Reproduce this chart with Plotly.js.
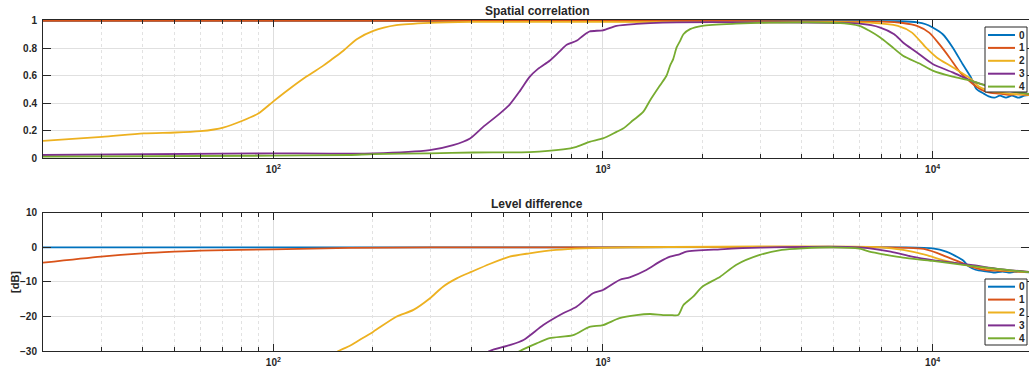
<!DOCTYPE html>
<html><head><meta charset="utf-8">
<script src="https://cdn.plot.ly/plotly-3.0.1.min.js"></script>
<style>html,body{margin:0;padding:0;background:#fff}#chart{width:1029px;height:375px}</style>
</head><body><div id="chart"></div>
<script>
// ---------- data ----------
const seriesNames = ['0', '1', '2', '3', '4'];
const seriesColors = ['#0072BD', '#D95319', '#EDB120', '#7E2F8E', '#77AC30'];

// Spatial correlation (top)
const corrFreq0 = [20, 100, 1000, 5000, 8000, 9000, 9535, 10004, 10737, 11507, 12330, 13065, 13560, 13850, 14300, 14800, 15400, 16000, 16700, 17400, 18200, 19000, 20000];
const corrVal0  = [1, 1, 1, 1, 0.998, 0.99, 0.976, 0.952, 0.903, 0.807, 0.686, 0.589, 0.505, 0.488, 0.47, 0.45, 0.44, 0.455, 0.44, 0.455, 0.44, 0.455, 0.46];
const corrFreq1 = [20, 1000, 7000, 8133, 8965, 9763, 10480, 11250, 12120, 13065, 13730, 14300, 15000, 16000, 17000, 18000, 19000, 20000];
const corrVal1  = [1, 1, 0.995, 0.985, 0.964, 0.915, 0.831, 0.734, 0.625, 0.553, 0.512, 0.49, 0.475, 0.47, 0.46, 0.465, 0.46, 0.46];
const corrFreq2 = [20, 30.2, 40.4, 50.4, 60, 66, 70.4, 80.2, 90, 100, 112, 126, 141.7, 148.5, 163, 179, 201, 236, 298, 400, 700, 1000, 3000, 6431, 7847, 8660, 9535, 10290, 11507, 13065, 13850, 15000, 17000, 20000];
const corrVal2  = [0.125, 0.154, 0.179, 0.186, 0.196, 0.208, 0.222, 0.27, 0.324, 0.413, 0.505, 0.594, 0.674, 0.71, 0.783, 0.867, 0.928, 0.969, 0.986, 0.993, 0.993, 0.993, 0.99, 0.988, 0.964, 0.915, 0.807, 0.734, 0.662, 0.577, 0.52, 0.49, 0.47, 0.46];
const corrFreq3 = [20, 100, 148, 201, 298, 351, 395, 433, 486, 521, 560, 598, 635, 689, 739, 776, 831, 868, 910, 1000, 1099, 1263, 1517, 3000, 6000, 6936, 7649, 8133, 8965, 10004, 11507, 13065, 14500, 16000, 18000, 20000];
const corrVal3  = [0.022, 0.034, 0.032, 0.034, 0.058, 0.094, 0.143, 0.227, 0.324, 0.39, 0.49, 0.59, 0.65, 0.71, 0.778, 0.826, 0.855, 0.891, 0.923, 0.932, 0.964, 0.978, 0.988, 0.99, 0.98, 0.952, 0.903, 0.843, 0.77, 0.686, 0.625, 0.565, 0.53, 0.5, 0.48, 0.465];
const corrFreq4 = [20, 100, 170, 201, 298, 404, 598, 757, 831, 910, 1000, 1099, 1151, 1234, 1324, 1389, 1488, 1558, 1598, 1633, 1673, 1714, 1754, 1838, 2001, 2532, 3184, 5111, 6000, 6431, 6936, 7460, 8133, 9187, 10004, 11507, 13065, 14514, 16500, 18000, 20000];
const corrVal4  = [0.01, 0.017, 0.022, 0.029, 0.034, 0.04, 0.043, 0.063, 0.082, 0.118, 0.143, 0.191, 0.215, 0.275, 0.336, 0.42, 0.529, 0.6, 0.674, 0.722, 0.807, 0.855, 0.903, 0.94, 0.964, 0.98, 0.988, 0.986, 0.964, 0.928, 0.879, 0.819, 0.746, 0.686, 0.638, 0.594, 0.565, 0.529, 0.5, 0.48, 0.465];

// Level difference [dB] (bottom)
const levFreq0 = [20, 1000, 8000, 10004, 11000, 12330, 12900, 13500, 14514, 15300, 16300, 17200, 18200, 19000, 20000];
const levVal0  = [0, 0, 0, -0.3, -1.27, -3.7, -5.6, -6.5, -7.0, -7.3, -7.0, -7.3, -7.0, -7.2, -7.3];
const levFreq1 = [20, 30, 40, 50, 60, 100, 170, 300, 1000, 7000, 9535, 11000, 12330, 13065, 14514, 16000, 18000, 20000];
const levVal1  = [-4.45, -2.7, -1.75, -1.27, -0.97, -0.58, -0.2, -0.05, 0, 0, -0.6, -2.7, -4.6, -5.6, -6.6, -6.8, -7.0, -7.2];
const levFreq2 = [140, 157.6, 170.7, 179, 201, 236, 266, 298, 327, 360, 400, 453, 521, 598, 721, 868, 1200, 7000, 8133, 9535, 10737, 13065, 15000, 17000, 20000];
const levVal2  = [-33.5, -30, -28.5, -27.3, -24.4, -20.1, -18.1, -14.8, -11.4, -9, -7.05, -4.83, -2.7, -1.75, -0.77, -0.3, 0, 0, -0.77, -2.2, -3.7, -5.4, -6.3, -6.8, -7.2];
const levFreq3 = [420, 453, 521, 574, 659, 757, 831, 933, 1000, 1122, 1205, 1354, 1488, 1598, 1714, 1790, 2268, 3000, 6000, 7460, 8660, 10004, 13065, 16000, 20000];
const levVal3  = [-32, -30, -28.3, -26.8, -22.5, -19.1, -17.2, -13.3, -12.35, -9.46, -8.7, -6.56, -4.15, -2.7, -1.95, -1.27, -0.6, -0.1, 0, -1.27, -2.7, -3.7, -5.1, -6.3, -7.2];
const levFreq4 = [520, 560, 629, 689, 812, 910, 1000, 1122, 1263, 1389, 1522, 1598, 1691, 1754, 1877, 2001, 2268, 2532, 2990, 3490, 4040, 5000, 6000, 6431, 7240, 8133, 10004, 13065, 16300, 20000];
const levVal4  = [-32, -30, -27.8, -26.3, -25.4, -23, -22.5, -20.5, -19.6, -19.3, -19.6, -19.6, -19.6, -16.7, -14.3, -11.4, -8.5, -5.1, -2.2, -0.77, -0.3, 0, -0.4, -1.27, -2.2, -3, -3.96, -5.4, -6.4, -7.3];

const xMajorTicks = [100, 1000, 10000];
const xMajorText = ['10<sup>2</sup>', '10<sup>3</sup>', '10<sup>4</sup>'];
const xMinorTicks = [20,30,40,50,60,70,80,90,200,300,400,500,600,700,800,900,2000,3000,4000,5000,6000,7000,8000,9000,20000];
const corrTicks = [0, 0.2, 0.4, 0.6, 0.8, 1];
const levTicks = [-30, -20, -10, 0, 10];
const titles = ['Spatial correlation', 'Level difference'];
const yLabel = '[dB]';

// ---------- layout helpers ----------
const W = 1029, H = 375;
const X = p => p / W;
const Y = p => 1 - p / H;
const ink = '#262626';
const fam = 'Liberation Sans, Arial, sans-serif';
const tickFont = {family: fam, size: 10, color: ink, weight: 'bold'};

const corrF = [corrFreq0, corrFreq1, corrFreq2, corrFreq3, corrFreq4];
const corrV = [corrVal0, corrVal1, corrVal2, corrVal3, corrVal4];
const levF = [levFreq0, levFreq1, levFreq2, levFreq3, levFreq4];
const levV = [levVal0, levVal1, levVal2, levVal3, levVal4];

const traces = [];
for (let i = 0; i < 5; i++) {
  traces.push({x: corrF[i], y: corrV[i], xaxis: 'x', yaxis: 'y', mode: 'lines', name: seriesNames[i],
    line: {color: seriesColors[i], width: 1.8, shape: 'spline', smoothing: 0.7}, showlegend: false});
}
for (let i = 0; i < 5; i++) {
  traces.push({x: levF[i], y: levV[i], xaxis: 'x2', yaxis: 'y2', mode: 'lines', name: seriesNames[i],
    line: {color: seriesColors[i], width: 1.8, shape: 'spline', smoothing: 0.7}, showlegend: false});
}

function xAx(anchor) {
  return {type: 'log', domain: [X(43), 1], range: [Math.log10(20), 4.2925], anchor: anchor,
    tickmode: 'array', tickvals: xMajorTicks, ticktext: xMajorText, ticks: 'inside', ticklen: 7,
    tickcolor: ink, showline: true, linecolor: ink, linewidth: 1, mirror: 'ticks',
    showgrid: true, gridcolor: '#dedede', gridwidth: 1, zeroline: false, tickfont: tickFont,
    ticklabelstandoff: 2,
    minor: {tickmode: 'array', tickvals: xMinorTicks, ticks: 'inside', ticklen: 4, tickcolor: ink,
      showgrid: true, gridcolor: '#e2e2e2', griddash: 'dot', gridwidth: 1}};
}
function yAx(anchor, dom, rng, tv) {
  return {domain: dom, range: rng, anchor: anchor, tickmode: 'array', tickvals: tv,
    ticks: 'inside', ticklen: 8, tickcolor: ink, showline: true, linecolor: ink, linewidth: 1,
    mirror: 'ticks', showgrid: true, gridcolor: '#e0e0e0', gridwidth: 1, zeroline: false,
    tickfont: tickFont, ticklabelstandoff: 3};
}

const shapes = [], annotations = [];
annotations.push({xref: 'paper', yref: 'paper', x: X(537), y: Y(11), text: '<b>' + titles[0] + '</b>',
  showarrow: false, xanchor: 'center', yanchor: 'middle', font: {family: fam, size: 12, color: ink}});
annotations.push({xref: 'paper', yref: 'paper', x: X(537), y: Y(204), text: '<b>' + titles[1] + '</b>',
  showarrow: false, xanchor: 'center', yanchor: 'middle', font: {family: fam, size: 12, color: ink}});
annotations.push({xref: 'paper', yref: 'paper', x: X(15), y: Y(282), text: '<b>' + yLabel + '</b>', textangle: -90,
  showarrow: false, xanchor: 'center', yanchor: 'middle', font: {family: fam, size: 11, color: ink}});

function legend(top, bottom, firstRow) {
  shapes.push({type: 'rect', xref: 'paper', yref: 'paper', x0: X(985), x1: X(1027), y0: Y(bottom), y1: Y(top),
    fillcolor: '#ffffff', line: {color: ink, width: 1}, layer: 'above'});
  for (let i = 0; i < 5; i++) {
    const yy = firstRow + i * 12.9;
    shapes.push({type: 'line', xref: 'paper', yref: 'paper', x0: X(988), x1: X(1015), y0: Y(yy), y1: Y(yy),
      line: {color: seriesColors[i], width: 2}, layer: 'above'});
    annotations.push({xref: 'paper', yref: 'paper', x: X(1017), y: Y(yy), text: '<b>' + seriesNames[i] + '</b>',
      showarrow: false, xanchor: 'left', yanchor: 'middle', font: {family: fam, size: 10, color: ink}});
  }
}
legend(27, 92, 35);
legend(279, 345, 286.7);

const layout = {
  width: W, height: H, margin: {l: 0, r: 0, t: 0, b: 0},
  paper_bgcolor: '#ffffff', plot_bgcolor: '#ffffff', showlegend: false,
  font: {family: fam, size: 10, color: ink},
  xaxis: xAx('y'), yaxis: yAx('x', [Y(158), Y(20)], [0, 1.007], corrTicks),
  xaxis2: xAx('y2'), yaxis2: yAx('x2', [Y(351), Y(212.7)], [-30, 10], levTicks),
  shapes: shapes, annotations: annotations
};
Plotly.newPlot('chart', traces, layout, {staticPlot: true, displayModeBar: false});
</script></body></html>
